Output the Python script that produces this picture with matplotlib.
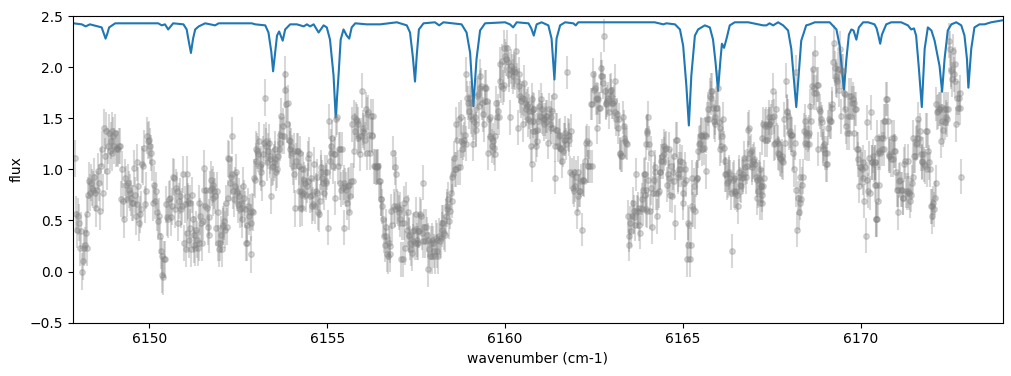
import numpy as np
import matplotlib
matplotlib.use("Agg")
import matplotlib.pyplot as plt

# observed spectrum, read off the figure in 8 consecutive chunks
# (start wavenumber, end wavenumber) of each chunk
seg_range = [(6147.91, 6151.10), (6151.06, 6154.29), (6154.24, 6157.52), (6157.52, 6160.80),
             (6160.75, 6164.03), (6163.93, 6167.26), (6167.16, 6170.49), (6170.39, 6172.83)]
seg_err = [0.18, 0.18, 0.17, 0.17, 0.16, 0.17, 0.17, 0.17]

flux_1 = [1.11, 0.56, 0.41, 0.54, 0.48, 0.23, 0.40, 0.00, 0.10, 0.23, 0.26, 0.38, 0.23, 0.56, 0.75,
          0.89, 0.77, 0.87, 0.82, 0.80, 0.93, 0.77, 0.62, 0.80, 0.98, 0.87, 0.59, 1.03, 1.20, 0.77,
          1.41, 1.13, 1.38, 0.98, 1.23, 1.36, 1.18, 1.28, 1.16, 1.38, 1.33, 1.23, 1.36, 1.20, 1.21,
          1.20, 1.23, 1.23, 0.71, 1.00, 0.69, 0.51, 0.92, 0.85, 0.71, 0.87, 0.80, 0.77, 0.72, 0.67,
          0.67, 1.01, 0.75, 0.54, 0.66, 1.07, 0.84, 0.48, 0.56, 0.61, 1.05, 1.03, 1.21, 0.66, 0.79,
          1.33, 1.28, 1.29, 1.23, 1.16, 1.07, 0.67, 0.85, 0.69, 0.79, 0.58, 0.49, 0.54, 0.35, 0.20,
          -0.03, 0.15, -0.05, 0.12, 0.12, 0.66, 0.53, 0.51, 0.71, 0.72, 0.53, 0.64, 0.93, 0.92, 0.61,
          0.82, 0.79, 0.48, 0.69, 0.74, 0.61, 0.64, 0.95, 0.28, 0.66, 0.22, 0.38, 0.74, 0.67]
flux_2 = [0.95, 0.69, 0.31, 0.67, 0.43, 0.22, 0.75, 0.51, 0.36, 0.26, 0.23, 0.41, 0.31, 0.23, 0.28,
          0.67, 0.54, 0.48, 0.28, 0.49, 1.01, 0.80, 0.64, 0.80, 0.62, 0.44, 0.53, 0.36, 0.80, 0.90,
          0.82, 0.85, 0.72, 0.79, 0.74, 0.43, 0.79, 0.58, 0.28, 0.22, 0.28, 0.36, 0.22, 0.46, 0.44,
          0.49, 0.41, 0.67, 0.44, 1.11, 0.72, 1.10, 0.87, 0.93, 0.95, 1.33, 0.79, 0.71, 0.84, 0.97,
          0.79, 0.77, 0.66, 0.74, 0.61, 0.67, 0.51, 0.62, 0.84, 0.72, 0.61, 0.28, 0.46, 0.28, 0.64,
          0.54, 0.58, 0.17, 0.48, 0.59, 0.58, 0.92, 0.90, 1.08, 1.20, 1.18, 1.15, 1.28, 1.03, 0.97,
          1.05, 0.87, 1.15, 1.26, 1.70, 1.28, 1.23, 1.07, 1.18, 1.26, 1.10, 1.13, 0.74, 1.02, 1.03,
          1.07, 1.20, 1.10, 0.97, 1.00, 1.13, 1.20, 1.26, 1.34, 1.52, 1.33, 1.42, 1.33, 1.93, 1.78,
          1.64, 1.44, 1.65, 1.29, 1.20, 1.28, 1.23, 1.16, 1.03, 1.18, 0.95, 0.62, 1.08, 1.18, 1.18,
          1.03, 0.79, 0.62, 1.00, 0.75]
flux_3 = [1.16, 0.79, 0.62, 1.00, 0.77, 0.90, 0.87, 0.75, 0.84, 1.11, 0.89, 1.15, 0.74, 0.92, 0.64,
          0.75, 0.66, 1.05, 0.64, 0.79, 0.77, 0.93, 0.58, 0.56, 0.69, 0.97, 1.02, 0.92, 0.87, 0.77,
          0.97, 0.89, 0.87, 0.97, 0.43, 1.47, 1.08, 1.23, 1.16, 1.31, 1.03, 1.15, 1.15, 0.72, 1.49,
          1.51, 1.03, 1.20, 1.20, 0.87, 0.80, 1.20, 0.82, 0.43, 0.87, 0.84, 0.80, 0.67, 0.84, 0.85,
          0.58, 0.74, 0.89, 1.44, 0.89, 1.18, 1.51, 1.38, 1.49, 1.47, 1.31, 1.44, 1.33, 1.15, 1.33,
          1.77, 1.38, 1.41, 1.36, 1.29, 1.59, 1.16, 1.54, 1.56, 1.34, 1.16, 1.52, 1.34, 1.33, 1.52,
          1.03, 1.03, 1.02, 1.03, 1.02, 1.03, 0.89, 0.89, 0.71, 0.71, 0.64, 0.51, 0.35, 0.26, 0.44,
          0.35, 0.17, 0.15, 0.28, 0.17, 0.25, 0.59, 0.46, 1.16, 0.64, 1.02, 0.61, 0.95, 0.64, 0.62,
          0.58, 0.51, 0.61, 0.12, 0.48, 0.12, 0.67, 0.48, 0.23, 0.71, 0.41, 0.58, 0.36, 0.35, 0.28,
          0.22, 0.18, 0.30, 0.40, 0.41, 0.28, 0.56, 0.31]
flux_4 = [0.28, 0.40, 0.28, 0.40, 0.56, 0.54, 0.38, 0.30, 0.87, 0.44, 0.30, 0.44, 0.36, 0.31, 0.02,
          0.22, 0.15, 0.28, 0.15, 0.31, 0.28, 0.20, 0.15, 0.33, 0.20, 0.31, 0.15, 0.35, 0.30, 0.33,
          0.41, 0.48, 0.48, 0.38, 0.36, 0.54, 0.64, 0.61, 0.71, 0.49, 0.59, 0.77, 0.69, 0.93, 0.95,
          1.11, 1.00, 1.00, 1.44, 1.29, 1.02, 1.49, 1.02, 1.28, 1.51, 1.20, 1.26, 1.29, 1.34, 1.25,
          1.93, 1.70, 1.65, 1.57, 1.70, 1.65, 1.52, 1.49, 1.25, 1.46, 1.51, 1.44, 1.39, 1.72, 1.74,
          1.62, 1.80, 1.91, 1.82, 1.65, 1.54, 1.44, 1.80, 1.67, 1.80, 1.67, 1.16, 1.49, 1.33, 1.51,
          1.31, 1.23, 1.28, 1.21, 1.15, 1.33, 1.65, 1.51, 1.57, 1.51, 2.03, 1.87, 1.82, 2.06, 1.80,
          1.83, 2.19, 2.11, 2.08, 2.19, 2.05, 1.93, 1.98, 1.51, 2.01, 1.96, 1.91, 1.96, 1.98, 1.95,
          2.16, 1.87, 1.41, 1.82, 1.93, 1.72, 1.67, 1.70, 1.44, 1.85, 1.69, 1.65, 1.59, 1.62, 1.49,
          1.64, 1.57, 1.47, 1.23, 1.05, 1.38, 1.59]
flux_5 = [1.69, 1.57, 1.47, 1.59, 1.38, 1.23, 1.39, 1.28, 1.47, 1.62, 1.52, 1.69, 1.51, 1.59, 1.49,
          1.44, 1.49, 1.52, 1.46, 1.52, 1.26, 1.59, 1.44, 1.51, 1.41, 1.57, 1.41, 1.72, 1.23, 0.92,
          1.39, 1.39, 1.23, 1.33, 1.34, 1.21, 1.20, 1.08, 1.18, 1.29, 1.36, 1.29, 1.25, 1.95, 1.34,
          1.29, 1.33, 0.97, 1.38, 0.95, 0.82, 0.97, 0.79, 0.84, 0.93, 0.58, 0.74, 0.97, 0.79, 0.79,
          0.89, 0.41, 0.90, 0.90, 0.89, 1.08, 1.26, 1.28, 1.03, 1.03, 1.26, 1.03, 1.64, 1.64, 1.03,
          1.93, 1.78, 1.80, 1.69, 1.70, 1.41, 1.69, 1.60, 1.60, 1.91, 1.99, 1.91, 1.85, 2.31, 1.77,
          1.64, 1.65, 1.67, 1.70, 1.56, 1.77, 1.72, 1.78, 1.65, 1.65, 1.67, 1.87, 1.56, 1.49, 1.54,
          1.41, 1.49, 1.16, 1.15, 1.13, 1.13, 1.51, 1.42, 1.31, 1.28, 1.26, 1.25, 0.54, 0.35, 0.26,
          0.48, 0.40, 0.54, 0.67, 0.53, 0.59, 0.46, 0.95, 0.59, 0.58, 0.62, 0.46, 0.38, 0.62, 0.71,
          0.61, 0.80, 0.95, 0.75, 1.25, 1.38, 0.59, 1.51]
flux_6 = [0.95, 0.80, 0.61, 1.36, 0.90, 1.25, 0.59, 1.16, 0.82, 0.44, 0.77, 0.90, 1.02, 0.97, 0.77,
          0.54, 0.77, 0.79, 0.97, 0.97, 1.08, 1.13, 1.08, 1.23, 1.15, 1.20, 1.21, 0.85, 0.95, 1.20,
          0.92, 0.75, 1.03, 0.74, 0.97, 1.13, 0.89, 0.48, 1.29, 1.29, 0.95, 0.93, 1.00, 1.08, 1.00,
          1.07, 0.77, 0.67, 0.87, 1.00, 0.90, 0.12, 0.48, 0.26, 0.46, 0.12, 0.26, 0.92, 0.64, 0.61,
          0.84, 0.59, 0.90, 0.92, 0.92, 1.18, 1.25, 1.26, 1.33, 1.34, 1.20, 1.33, 1.21, 1.34, 1.33,
          0.98, 1.49, 1.59, 1.49, 1.72, 1.77, 1.70, 1.77, 1.60, 1.47, 1.51, 1.44, 1.60, 1.60, 1.80,
          1.46, 1.20, 1.41, 1.23, 1.33, 1.49, 1.21, 1.08, 0.95, 0.95, 0.87, 0.89, 0.97, 0.95, 0.92,
          0.77, 0.20, 0.90, 0.79, 0.92, 0.77, 0.79, 0.75, 0.64, 0.93, 0.97, 0.85, 0.84, 0.92, 0.93,
          0.95, 1.11, 1.02, 0.93, 1.03, 1.39, 1.11, 1.41, 1.16, 1.18, 1.05, 1.02, 1.08, 1.10, 1.05,
          0.93, 0.72, 0.90, 0.79, 0.92, 0.67, 0.84, 0.75, 1.31, 1.44]
flux_7 = [1.00, 0.90, 0.84, 0.67, 0.84, 0.92, 1.29, 1.42, 1.44, 1.29, 1.42, 1.44, 1.51, 1.44, 1.47,
          1.51, 1.77, 1.52, 1.25, 1.26, 1.59, 1.28, 1.26, 1.16, 1.15, 1.11, 1.10, 1.13, 1.08, 1.07,
          1.49, 1.26, 1.87, 1.56, 1.57, 1.52, 1.36, 1.38, 1.34, 1.34, 1.34, 1.16, 1.00, 1.26, 1.95,
          0.80, 0.41, 0.72, 0.58, 0.67, 0.93, 0.71, 0.85, 0.93, 1.38, 1.26, 1.47, 1.36, 1.25, 1.34,
          1.36, 1.25, 1.62, 1.47, 1.82, 1.98, 1.75, 1.80, 2.14, 1.75, 1.83, 1.83, 1.20, 1.59, 1.57,
          1.49, 1.46, 1.23, 1.20, 1.25, 1.16, 1.05, 1.05, 1.16, 1.41, 1.49, 1.47, 1.47, 1.60, 1.64,
          2.05, 2.24, 1.99, 1.88, 1.91, 1.87, 1.98, 1.78, 2.18, 1.98, 1.52, 1.96, 1.96, 1.75, 1.74,
          1.59, 1.42, 1.36, 1.52, 1.36, 1.72, 1.52, 1.72, 1.65, 1.69, 1.36, 1.65, 1.59, 1.59, 1.20,
          1.10, 1.20, 0.84, 1.02, 1.02, 1.00, 1.07, 0.92, 0.69, 1.02, 0.35, 0.90, 1.46, 0.79, 1.11,
          0.77, 1.56, 1.07, 1.07, 1.13, 1.05, 1.07, 0.51, 0.85, 1.31, 1.16]
flux_8 = [1.07, 0.85, 0.51, 0.51, 0.69, 0.85, 1.18, 1.16, 1.31, 1.20, 1.31, 1.20, 1.47, 1.47, 1.69,
          1.69, 1.47, 1.13, 1.15, 1.13, 1.10, 1.31, 1.10, 1.31, 1.18, 1.18, 0.97, 0.80, 0.80, 0.58,
          0.89, 0.90, 0.80, 0.80, 0.72, 0.72, 1.05, 1.08, 0.79, 0.77, 0.79, 1.08, 0.77, 0.69, 0.75,
          0.87, 0.93, 1.31, 1.13, 1.13, 1.25, 1.26, 1.31, 1.49, 1.31, 1.38, 1.15, 1.08, 1.07, 1.15,
          1.05, 1.03, 1.38, 1.38, 1.00, 1.18, 1.07, 1.00, 0.64, 0.54, 0.64, 0.67, 0.61, 0.72, 0.87,
          1.64, 1.56, 1.57, 1.59, 1.59, 1.61, 1.28, 1.47, 1.39, 1.59, 1.46, 1.51, 1.59, 1.49, 1.59,
          2.26, 2.18, 1.96, 1.98, 1.88, 2.16, 1.93, 2.03, 1.87, 1.44, 1.70, 1.60, 1.70, 1.60, 1.75,
          0.93]

# model spectrum (vertices of the blue curve)
model_wn = [6147.87, 6148.10, 6148.21, 6148.33, 6148.66, 6148.72, 6148.77, 6148.82, 6148.87, 6149.04,
            6150.25, 6150.35, 6150.44, 6150.53, 6150.67, 6150.96, 6151.05, 6151.10, 6151.17, 6151.23,
            6151.29, 6151.39, 6151.57, 6151.85, 6151.95, 6152.88, 6152.98, 6153.26, 6153.35, 6153.43,
            6153.48, 6153.54, 6153.59, 6153.65, 6153.75, 6153.82, 6153.96, 6154.15, 6154.34, 6154.43,
            6154.52, 6154.62, 6154.76, 6154.90, 6154.99, 6155.08, 6155.18, 6155.24, 6155.32, 6155.38,
            6155.46, 6155.55, 6155.62, 6155.69, 6155.79, 6156.11, 6156.49, 6156.96, 6157.24, 6157.33,
            6157.41, 6157.47, 6157.52, 6157.58, 6157.71, 6158.03, 6158.15, 6158.27, 6158.78, 6158.92,
            6159.02, 6159.11, 6159.20, 6159.30, 6159.44, 6160.00, 6160.14, 6160.23, 6160.33, 6160.66,
            6160.74, 6160.81, 6160.89, 6161.03, 6161.22, 6161.31, 6161.39, 6161.45, 6161.55, 6161.69,
            6161.92, 6161.99, 6162.06, 6164.07, 6164.21, 6164.45, 6164.54, 6164.78, 6164.92, 6165.01,
            6165.10, 6165.17, 6165.24, 6165.34, 6165.43, 6165.62, 6165.76, 6165.85, 6165.92, 6165.99,
            6166.06, 6166.10, 6166.16, 6166.23, 6166.32, 6166.46, 6166.84, 6167.12, 6167.26, 6167.35,
            6167.44, 6167.54, 6167.68, 6167.82, 6167.96, 6168.05, 6168.13, 6168.19, 6168.27, 6168.33,
            6168.47, 6168.57, 6168.71, 6169.13, 6169.32, 6169.41, 6169.49, 6169.53, 6169.60, 6169.67,
            6169.74, 6169.80, 6169.88, 6169.95, 6170.07, 6170.21, 6170.39, 6170.45, 6170.50, 6170.55,
            6170.60, 6170.72, 6170.86, 6171.14, 6171.33, 6171.42, 6171.50, 6171.56, 6171.64, 6171.72,
            6171.80, 6171.89, 6171.99, 6172.08, 6172.22, 6172.29, 6172.36, 6172.45, 6172.55, 6172.69,
            6172.83, 6172.92, 6172.99, 6173.03, 6173.11, 6173.20, 6173.34, 6173.48, 6173.67, 6174.00]
model_flux = [2.43, 2.42, 2.40, 2.42, 2.39, 2.33, 2.28, 2.33, 2.39, 2.43,
              2.43, 2.41, 2.42, 2.37, 2.43, 2.42, 2.37, 2.27, 2.14, 2.28,
              2.37, 2.40, 2.43, 2.41, 2.43, 2.43, 2.42, 2.41, 2.34, 2.15,
              1.96, 2.15, 2.31, 2.35, 2.26, 2.37, 2.42, 2.42, 2.40, 2.42,
              2.40, 2.42, 2.34, 2.41, 2.39, 2.27, 1.92, 1.51, 1.92, 2.27,
              2.37, 2.31, 2.28, 2.39, 2.43, 2.42, 2.42, 2.44, 2.41, 2.34,
              2.10, 1.86, 2.12, 2.37, 2.43, 2.44, 2.41, 2.44, 2.42, 2.34,
              2.14, 1.62, 2.08, 2.36, 2.43, 2.44, 2.42, 2.39, 2.44, 2.43,
              2.38, 2.31, 2.42, 2.44, 2.41, 2.28, 1.88, 2.28, 2.41, 2.44,
              2.43, 2.41, 2.44, 2.44, 2.44, 2.42, 2.43, 2.42, 2.37, 2.21,
              1.82, 1.43, 1.92, 2.31, 2.37, 2.41, 2.39, 2.27, 2.05, 1.77,
              2.08, 2.23, 2.19, 2.28, 2.41, 2.44, 2.44, 2.42, 2.41, 2.41,
              2.43, 2.41, 2.44, 2.41, 2.36, 2.18, 1.85, 1.61, 1.98, 2.26,
              2.41, 2.42, 2.44, 2.44, 2.37, 2.21, 1.92, 1.78, 2.08, 2.32,
              2.37, 2.36, 2.27, 2.39, 2.44, 2.44, 2.42, 2.38, 2.31, 2.23,
              2.32, 2.42, 2.44, 2.44, 2.41, 2.37, 2.38, 2.31, 1.98, 1.61,
              2.18, 2.39, 2.36, 2.26, 2.01, 1.76, 2.08, 2.36, 2.42, 2.44,
              2.41, 2.31, 2.08, 1.80, 2.18, 2.39, 2.42, 2.42, 2.44, 2.46]

segments = [flux_1, flux_2, flux_3, flux_4, flux_5, flux_6, flux_7, flux_8]

wn = []
flux = []
err = []
for (lo, hi), f, e in zip(seg_range, segments, seg_err):
    wn.append(np.linspace(lo, hi, len(f)))
    flux.append(np.array(f))
    err.append(np.full(len(f), e))
wn = np.concatenate(wn)
flux = np.concatenate(flux)
err = np.concatenate(err)

fig, ax = plt.subplots(figsize=(10.12, 3.76), dpi=100)
fig.subplots_adjust(left=0.072, right=0.991, top=0.957, bottom=0.142)

ax.errorbar(wn, flux, yerr=err, fmt='o', color='gray', ms=4, elinewidth=1.5, alpha=0.3)
ax.plot(model_wn, model_flux, color='C0', lw=1.5)

ax.set_xlim(6147.85, 6174.0)
ax.set_ylim(-0.5, 2.5)
ax.set_xlabel('wavenumber (cm-1)')
ax.set_ylabel('flux')

plt.savefig("out.png", dpi=100)
